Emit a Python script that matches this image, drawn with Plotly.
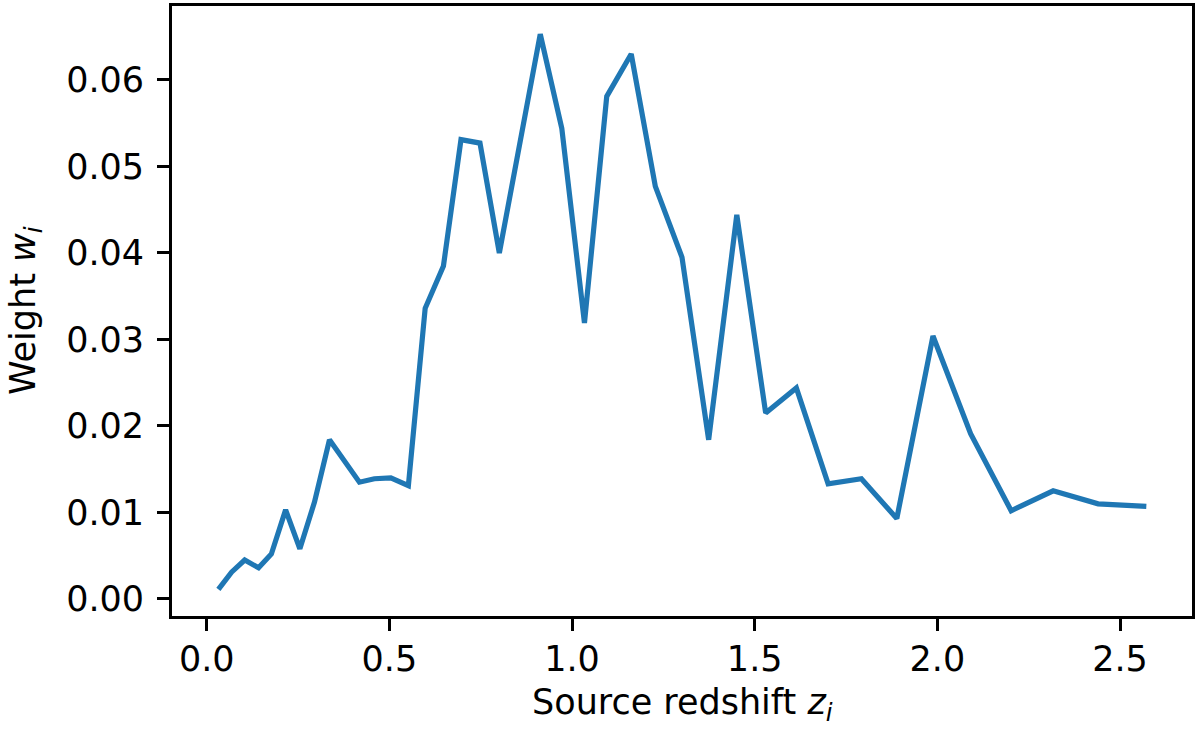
import plotly.graph_objects as go

# Source redshift z_i
z = [0.032, 0.068, 0.104, 0.142, 0.177, 0.216, 0.255, 0.295, 0.336, 0.418,
     0.459, 0.504, 0.552, 0.598, 0.648, 0.696, 0.748, 0.801, 0.913, 0.972,
     1.034, 1.095, 1.162, 1.228, 1.301, 1.374, 1.451, 1.530, 1.614, 1.701,
     1.792, 1.889, 1.988, 2.091, 2.202, 2.317, 2.440, 2.572]
# Weight w_i
w = [0.0011, 0.0031, 0.0045, 0.0036, 0.0052, 0.0103, 0.0058, 0.0112, 0.0184, 0.0135,
     0.0139, 0.0140, 0.0131, 0.0336, 0.0385, 0.0531, 0.0527, 0.0400, 0.0653, 0.0544,
     0.0319, 0.0581, 0.0630, 0.0477, 0.0395, 0.0184, 0.0444, 0.0215, 0.0244, 0.0133,
     0.0139, 0.0093, 0.0304, 0.0191, 0.0102, 0.0125, 0.0110, 0.0107]

x_ticks = [0.0, 0.5, 1.0, 1.5, 2.0, 2.5]
x_ticklabels = ["0.0", "0.5", "1.0", "1.5", "2.0", "2.5"]
y_ticks = [0.00, 0.01, 0.02, 0.03, 0.04, 0.05, 0.06]
y_ticklabels = ["0.00", "0.01", "0.02", "0.03", "0.04", "0.05", "0.06"]
x_title = "Source redshift <i>z<sub>i</sub></i>"
y_title = "Weight <i>w<sub>i</sub></i>"

FONT = "DejaVu Sans"
FS = 35
W, H = 1200, 734
ML, MR, MT, MB = 172, 8, 6, 118
PW, PH = W - ML - MR, H - MT - MB

fig = go.Figure()
fig.add_trace(go.Scatter(x=z, y=w, mode="lines",
                         line=dict(color="#1f77b4", width=5.2),
                         showlegend=False))

axis_common = dict(
    showline=True, linecolor="black", linewidth=2.8, mirror=True,
    ticks="outside", ticklen=12, tickwidth=2.8, tickcolor="black",
    showgrid=False, zeroline=False, automargin=False,
    tickfont=dict(family=FONT, size=FS, color="black"),
)

fig.update_layout(
    width=W, height=H,
    paper_bgcolor="white", plot_bgcolor="white",
    margin=dict(l=ML, r=MR, t=MT, b=MB, autoexpand=False),
    font=dict(family=FONT, size=FS, color="black"),
    xaxis=dict(range=[-0.095, 2.697], tickvals=x_ticks, ticktext=x_ticklabels,
               ticklabelstandoff=-2, **axis_common),
    yaxis=dict(range=[-0.00197, 0.06855], tickvals=y_ticks, ticktext=y_ticklabels,
               ticklabelstandoff=6, **axis_common),
    annotations=[
        dict(text=x_title, xref="paper", yref="paper",
             x=0.5, y=-(704 - (H - MB)) / PH,
             xanchor="center", yanchor="middle", showarrow=False,
             font=dict(family=FONT, size=FS, color="black")),
        dict(text=y_title, xref="paper", yref="paper",
             x=(25 - ML) / PW, y=0.5, textangle=-90,
             xanchor="center", yanchor="middle", showarrow=False,
             font=dict(family=FONT, size=FS, color="black")),
    ],
)

fig.write_html("out.html",
               config={"displayModeBar": False},
               post_script="document.body.style.margin='0';document.body.style.overflow='hidden';")
